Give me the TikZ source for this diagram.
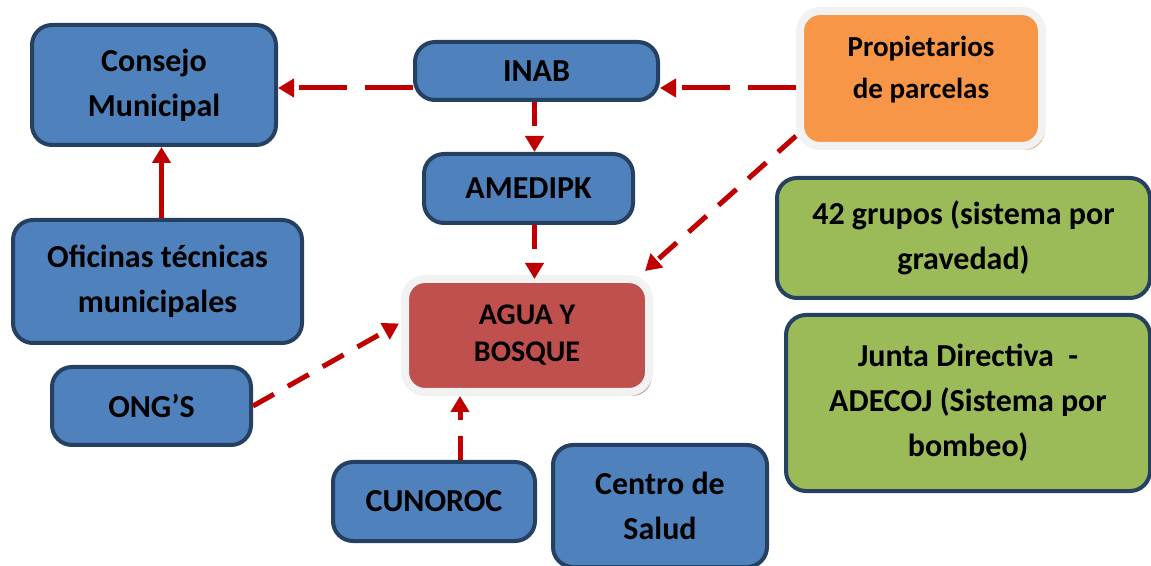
\documentclass[tikz,border=0pt]{standalone}
\usepackage{fontspec}
\setmainfont{Carlito}
\usetikzlibrary{arrows.meta, positioning, shadows}
\definecolor{boxBlue}{HTML}{4F81BD}
\definecolor{boxEdge}{HTML}{264061}
\definecolor{boxOrange}{HTML}{F79646}
\definecolor{boxRed}{HTML}{C0504D}
\definecolor{boxGreen}{HTML}{9BBB59}
\definecolor{ringGray}{HTML}{F2F2F2}
\definecolor{arrowRed}{HTML}{C00000}

\begin{document}
\begin{tikzpicture}[
    x=0.5pt, y=-0.5pt,
    >={Triangle[length=8pt, width=9pt]},
    txt/.style={font=\fontsize{16}{22.5}\selectfont\bfseries, align=center,
                text=black, inner sep=0pt},
    actor/.style={txt, rectangle, rounded corners=10pt, draw=boxEdge,
                  line width=2pt, fill=boxBlue},
    grupo/.style={actor, fill=boxGreen},
    lead/.style={txt, rectangle, rounded corners=10pt, draw=ringGray,
                 line width=4pt},
    link/.style={->, arrowRed, line width=2.5pt, dash pattern=on 12pt off 8pt},
    longlink/.style={link, dash pattern=on 24pt off 9pt},
  ]
    \useasboundingbox (0,0) rectangle (1151,566);

    % Municipalidad
    \node[actor, minimum width=122pt, minimum height=60pt] (consejo) at (154,85)
      {Consejo\\Municipal};
    \node[actor, minimum width=144.5pt, minimum height=61.5pt] (oficinas) at (157.5,281.5)
      {Oficinas t\'ecnicas\\municipales};
    \node[actor, minimum width=99.5pt, minimum height=39pt] (ongs) at (151.5,406) {ONG’S};

    % Centro
    \node[actor, minimum width=121.5pt, minimum height=29pt] (inab) at (536.5,71) {INAB};
    \node[actor, minimum width=104.5pt, minimum height=34.5pt] (amedipk) at (528.5,188.5) {AMEDIPK};
    \node[lead, fill=boxRed, minimum width=122pt, minimum height=56.5pt,
          font=\fontsize{15}{18.5}\selectfont\bfseries,
          drop shadow={shadow xshift=1.5pt, shadow yshift=-2pt, fill=boxRed!45!gray!70, opacity=1}]
      (agua) at (527,335.5) {AGUA Y\\BOSQUE};
    \node[actor, minimum width=101pt, minimum height=39.5pt] (cunoroc) at (434,501.5) {CUNOROC};
    \node[actor, minimum width=107pt, minimum height=61pt] (salud) at (660,506)
      {Centro de\\Salud};

    % Derecha
    \node[lead, fill=boxOrange, minimum width=121pt, minimum height=67.5pt,
          font=\fontsize{14.5}{21}\selectfont\bfseries, text depth=11pt,
          drop shadow={shadow xshift=1.5pt, shadow yshift=-2pt, fill=boxOrange!50!brown!70, opacity=1}]
      (prop) at (921,78.5) {Propietarios\\de parcelas};
    \node[grupo, minimum width=186.5pt, minimum height=60pt] (grupos) at (963.5,238)
      {42 grupos (sistema por\\gravedad)};
    \node[grupo, minimum width=182pt, minimum height=88pt] (junta) at (968,403)
      {Junta Directiva\ \ -\\ADECOJ (Sistema por\\bombeo)};

    % Flechas
    \draw[longlink] ([yshift=-8.5pt]inab.west) -- ([yshift=-8.5pt]inab.west -| consejo.east);
    \draw[longlink] ([yshift=-4.75pt]prop.west) -- ([yshift=-4.75pt]prop.west -| inab.east);
    \draw[link] ([xshift=-1pt]inab.south) -- ([xshift=-1pt]inab.south |- amedipk.north);
    \draw[link] ([xshift=3pt]amedipk.south) -- ([xshift=3pt,yshift=-2pt]amedipk.south |- agua.north);
    \draw[link] ([yshift=7pt]prop.south west) -- ([xshift=-4pt,yshift=2pt]agua.north east);
    \draw[link] (ongs.east) -- ([yshift=6pt,xshift=-1pt]agua.west);
    \draw[link] ([xshift=13pt]cunoroc.north) -- ([xshift=13pt]cunoroc.north |- agua.south);
    \draw[->, arrowRed, line width=2.5pt] ([xshift=2pt]oficinas.north)
      -- ([xshift=2pt]oficinas.north |- consejo.south);
  \end{tikzpicture}
\end{document}
